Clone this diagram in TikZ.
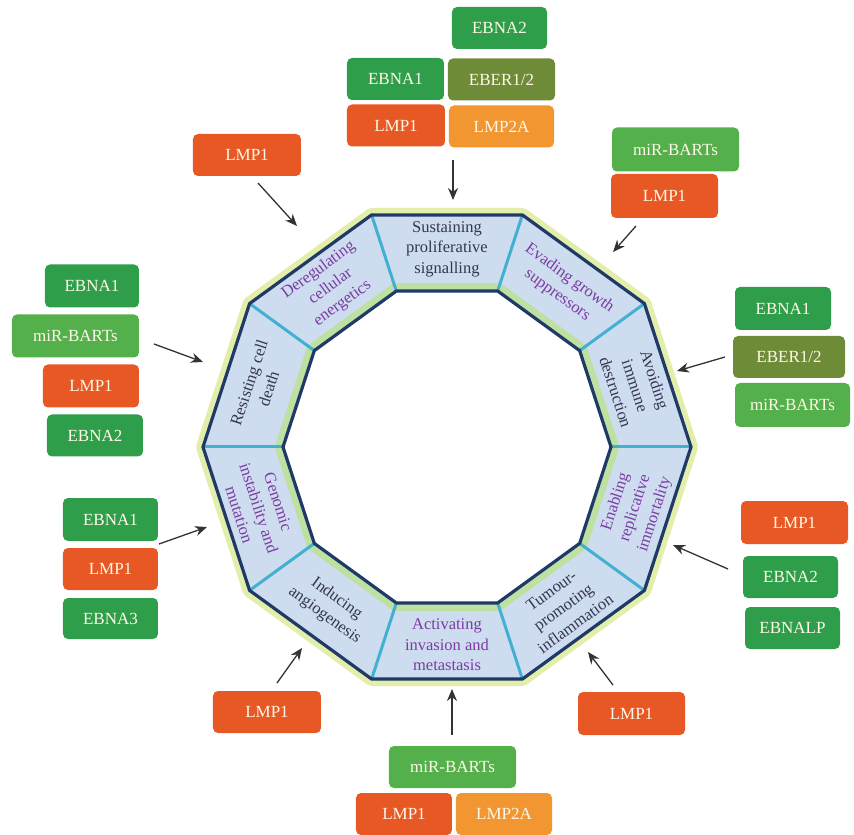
\documentclass[tikz,border=0pt]{standalone}
\usepackage{fontspec}
\setmainfont{LiberationSerif}[Extension=.ttf, UprightFont=*-Regular,
  BoldFont=*-Bold, ItalicFont=*-Italic, BoldItalicFont=*-BoldItalic]
\usetikzlibrary{arrows.meta}

\definecolor{ebnagreen}{RGB}{47,158,74}
\definecolor{mirgreen}{RGB}{84,176,74}
\definecolor{eberolive}{RGB}{110,140,56}
\definecolor{lmpred}{RGB}{232,88,36}
\definecolor{lmpamber}{RGB}{242,150,50}
\definecolor{boxtext}{RGB}{255,248,232}
\definecolor{ringnavy}{RGB}{32,58,104}
\definecolor{ringcyan}{RGB}{66,176,208}
\definecolor{ringfill}{RGB}{206,220,240}
\definecolor{ringband}{RGB}{190,224,160}
\definecolor{ringglow}{RGB}{226,238,170}
\definecolor{darktext}{RGB}{52,54,82}
\definecolor{hpurple}{RGB}{122,60,162}

\tikzset{
  gene/.style={rounded corners=5pt, text=boxtext, minimum height=42pt,
    inner sep=0pt, font=\fontsize{17}{20}\selectfont},
  ebna/.style={gene, fill=ebnagreen},
  mir/.style={gene, fill=mirgreen},
  eber/.style={gene, fill=eberolive},
  lmp/.style={gene, fill=lmpred},
  lmpa/.style={gene, fill=lmpamber},
  hall/.style={align=center, font=\fontsize{16.5}{20.5}\selectfont},
  arr/.style={draw=black!80, line width=1.3pt, -{Stealth[length=12pt,width=10pt]}}
}

\begin{document}
\begin{tikzpicture}[x=1pt,y=1pt]
\useasboundingbox (-447,-388) rectangle (407,447);

\def\rout{244}
\def\rin{164}

% ring of hallmarks
\draw[ringglow, line width=14pt, line join=round]
  (0:\rout) \foreach \a in {36,72,...,324} {-- (\a:\rout)} -- cycle;
\fill[ringfill] (0:\rout) \foreach \a in {36,72,...,324} {-- (\a:\rout)} -- cycle;
\draw[ringband, line width=16pt, line join=round]
  (0:\rin) \foreach \a in {36,72,...,324} {-- (\a:\rin)} -- cycle;
\fill[white] (0:\rin) \foreach \a in {36,72,...,324} {-- (\a:\rin)} -- cycle;
\foreach \a in {0,36,...,324}
  \draw[ringcyan, line width=3pt] (\a:\rin) -- (\a:\rout);
\draw[ringnavy, line width=3.2pt, line join=round]
  (0:\rout) \foreach \a in {36,72,...,324} {-- (\a:\rout)} -- cycle;
\draw[ringnavy, line width=3.2pt, line join=round]
  (0:\rin) \foreach \a in {36,72,...,324} {-- (\a:\rin)} -- cycle;

\node[hall, text=darktext] (sust) at (90:198) {Sustaining\\proliferative\\signalling};
\node[hall, text=hpurple, rotate=-36] (evad) at (54:198) {Evading growth\\suppressors};
\node[hall, text=darktext, rotate=-72] (avoid) at (18:198) {Avoiding\\immune\\destruction};
\node[hall, text=hpurple, rotate=72] (enab) at (-18:198) {Enabling\\replicative\\immortality};
\node[hall, text=darktext, rotate=36] (tumour) at (-54:198) {Tumour-\\promoting\\inflammation};
\node[hall, text=hpurple] (activ) at (-90:198) {Activating\\invasion and\\metastasis};
\node[hall, text=darktext, rotate=-36] (induc) at (-126:198) {Inducing\\angiogenesis};
\node[hall, text=hpurple, rotate=-72] (genom) at (-162:198) {Genomic\\instability and\\mutation};
\node[hall, text=darktext, rotate=72] (resist) at (162:198) {Resisting cell\\death};
\node[hall, text=hpurple, rotate=36] (dereg) at (126:198) {Deregulating\\cellular\\energetics};

% top
\node[ebna, minimum width=95pt] (top_ebna2) at (52.5,419) {EBNA2};
\node[ebna, minimum width=97pt] (top_ebna1) at (-51.5,368) {EBNA1};
\node[eber, minimum width=107pt] (top_eber) at (54.5,367.5) {EBER1/2};
\node[lmp, minimum width=98pt] (top_lmp1) at (-51,321.5) {LMP1};
\node[lmpa, minimum width=105pt] (top_lmp2a) at (54.5,320.5) {LMP2A};
\coordinate (top_from) at (6,287);
\coordinate (top_to) at (6,247);
\draw[arr] (top_from) -- (top_to);

% upper left
\node[lmp, minimum width=108pt] (ul_lmp1) at (-200,292) {LMP1};
\coordinate (ul_from) at (-189,264);
\coordinate (ul_to) at (-150,221);
\draw[arr] (ul_from) -- (ul_to);

% upper right
\node[mir, minimum width=127pt, minimum height=44pt] (ur_mir) at (228.5,297.5) {miR-BARTs};
\node[lmp, minimum width=107pt, minimum height=44pt] (ur_lmp1) at (217.5,251) {LMP1};
\coordinate (ur_from) at (189,221);
\coordinate (ur_to) at (166,195);
\draw[arr] (ur_from) -- (ur_to);

% left
\node[ebna, minimum width=94pt, minimum height=43pt] (l_ebna1) at (-355,161) {EBNA1};
\node[mir, minimum width=127pt, minimum height=43pt] (l_mir) at (-371.5,111) {miR-BARTs};
\node[lmp, minimum width=96pt, minimum height=43pt] (l_lmp1) at (-356,61) {LMP1};
\node[ebna, minimum width=96pt] (l_ebna2) at (-352,11.5) {EBNA2};
\coordinate (l_from) at (-293,103);
\coordinate (l_to) at (-244,85);
\draw[arr] (l_from) -- (l_to);

% right
\node[ebna, minimum width=96pt, minimum height=43pt] (r_ebna1) at (336,138.5) {EBNA1};
\node[eber, minimum width=112pt] (r_eber) at (342,90) {EBER1/2};
\node[mir, minimum width=115pt, minimum height=44pt] (r_mir) at (345.5,42) {miR-BARTs};
\coordinate (r_from) at (278,90);
\coordinate (r_to) at (230,76);
\draw[arr] (r_from) -- (r_to);

% lower left
\node[ebna, minimum width=95pt, minimum height=43pt] (ll_ebna1) at (-336.5,-72.5) {EBNA1};
\node[lmp, minimum width=95pt] (ll_lmp1) at (-336.5,-122) {LMP1};
\node[ebna, minimum width=95pt, minimum height=41pt] (ll_ebna3) at (-336.5,-171.5) {EBNA3};
\coordinate (ll_from) at (-288,-97);
\coordinate (ll_to) at (-240,-80);
\draw[arr] (ll_from) -- (ll_to);

% lower right
\node[lmp, minimum width=107pt, minimum height=43pt] (lr_lmp1) at (347.5,-75.5) {LMP1};
\node[ebna, minimum width=95pt] (lr_ebna2) at (343.5,-130) {EBNA2};
\node[ebna, minimum width=95pt] (lr_ebnalp) at (345.5,-181) {EBNALP};
\coordinate (lr_from) at (281,-122);
\coordinate (lr_to) at (226,-98);
\draw[arr] (lr_from) -- (lr_to);

% bottom
\node[lmp, minimum width=108pt] (bl_lmp1) at (-180,-265) {LMP1};
\coordinate (bl_from) at (-170,-236);
\coordinate (bl_to) at (-145,-201);
\draw[arr] (bl_from) -- (bl_to);

\node[lmp, minimum width=107pt, minimum height=43pt] (br_lmp1) at (184.5,-266.5) {LMP1};
\coordinate (br_from) at (166,-238);
\coordinate (br_to) at (141,-205);
\draw[arr] (br_from) -- (br_to);

\node[mir, minimum width=127pt] (b_mir) at (5.5,-320) {miR-BARTs};
\node[lmp, minimum width=96pt] (b_lmp1) at (-43,-367) {LMP1};
\node[lmpa, minimum width=96pt] (b_lmp2a) at (57,-367) {LMP2A};
\coordinate (b_from) at (5,-288);
\coordinate (b_to) at (5,-242);
\draw[arr] (b_from) -- (b_to);
\end{tikzpicture}
\end{document}
